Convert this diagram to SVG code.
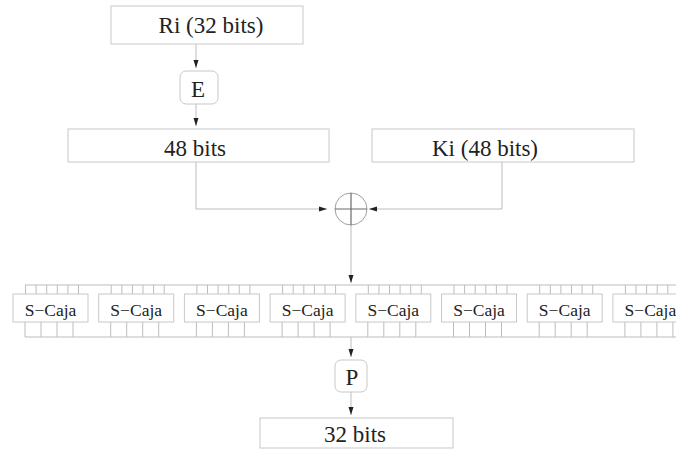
<svg xmlns="http://www.w3.org/2000/svg" width="676" height="458" viewBox="0 0 676 458">
  <style>
    .box { fill: #ffffff; stroke: #c8c8c8; stroke-width: 1; }
    .rbox { fill: #ffffff; stroke: #c8c8c8; stroke-width: 1; }
    .lbl { font-family: "Liberation Serif", "Times New Roman", serif; fill: #222; text-anchor: middle; }
    .big { font-size: 23px; }
    .sml { font-size: 17.5px; }
    .wire { fill: none; stroke: #bdbdbd; stroke-width: 1; }
    .arrow { fill: none; stroke: #bdbdbd; stroke-width: 1; marker-end: url(#tip); }
    .xor { fill: none; stroke: #a0a0a0; stroke-width: 1; }
    .cross { fill: none; stroke: #6a6a6a; stroke-width: 1.2; }
  </style>
  <defs>
    <marker id="tip" markerUnits="userSpaceOnUse" markerWidth="9" markerHeight="6" refX="8" refY="3" orient="auto">
      <path d="M0,0.5 L8,3 L0,5.5 z" fill="#222"/>
    </marker>
    <!-- one S-box: frame, label, 6 input and 4 output taps -->
    <g id="sbox-shape">
      <path class="wire" d="M12.5,-9 V0 M23.1,-9 V0 M33.7,-9 V0 M44.3,-9 V0 M54.9,-9 V0 M65.5,-9 V0 M12,28 V43 M28,28 V43 M44,28 V43 M60,28 V43"/>
      <rect class="box" x="0" y="0" width="75" height="28"/>
      <text class="lbl sml" x="37.5" y="22">S−Caja</text>
    </g>
  </defs>

  <g id="connectors">
    <path class="arrow" d="M196,44 V68"/>
    <path class="arrow" d="M196,104 V126"/>
    <path class="arrow" d="M196,162 V209 H327"/>
    <path class="arrow" d="M502,162 V209 H369"/>
    <path class="arrow" d="M351,225 V283"/>
    <!-- S-box buses -->
    <path class="wire" d="M25,285 H676 M25,337 H676"/>
    <path class="arrow" d="M351,337 V357"/>
    <path class="arrow" d="M351,392 V415"/>
  </g>

  <g id="ri">
    <rect class="box" x="111" y="6" width="192" height="38"/>
    <text class="lbl big" x="211" y="33">Ri (32 bits)</text>
  </g>

  <g id="e">
    <rect class="rbox" x="180" y="71" width="38" height="33" rx="6"/>
    <text class="lbl big" x="198" y="97">E</text>
  </g>

  <g id="bits48">
    <rect class="box" x="68" y="129" width="261" height="33"/>
    <text class="lbl big" x="195" y="156">48 bits</text>
  </g>

  <g id="ki">
    <rect class="box" x="372" y="129" width="262" height="33"/>
    <text class="lbl big" x="485" y="156">Ki (48 bits)</text>
  </g>

  <g id="xor">
    <circle class="xor" cx="351" cy="209" r="16"/>
    <path class="cross" d="M335,209 H367 M351,193 V225"/>
  </g>

  <g id="sbox1"><use href="#sbox-shape" transform="translate(13,294)"/></g>
  <g id="sbox2"><use href="#sbox-shape" transform="translate(98.7,294)"/></g>
  <g id="sbox3"><use href="#sbox-shape" transform="translate(184.4,294)"/></g>
  <g id="sbox4"><use href="#sbox-shape" transform="translate(270.1,294)"/></g>
  <g id="sbox5"><use href="#sbox-shape" transform="translate(355.8,294)"/></g>
  <g id="sbox6"><use href="#sbox-shape" transform="translate(441.5,294)"/></g>
  <g id="sbox7"><use href="#sbox-shape" transform="translate(527.2,294)"/></g>
  <g id="sbox8"><use href="#sbox-shape" transform="translate(612.9,294)"/></g>

  <g id="p">
    <rect class="rbox" x="335" y="360" width="32" height="32" rx="6"/>
    <text class="lbl big" x="352" y="385">P</text>
  </g>

  <g id="bits32">
    <rect class="box" x="260" y="418" width="193" height="30"/>
    <text class="lbl big" x="355" y="442">32 bits</text>
  </g>
</svg>
